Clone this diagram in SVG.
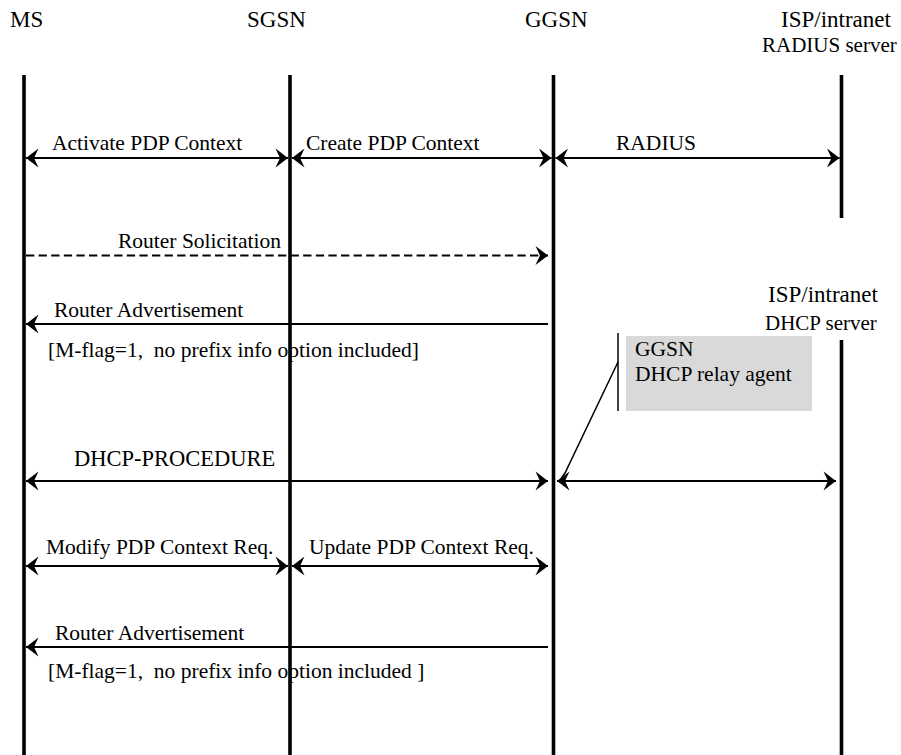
<svg xmlns="http://www.w3.org/2000/svg" width="901" height="755" viewBox="0 0 901 755">
<style>
text{fill:#000;white-space:pre}
.hd{font-size:23px}
.sub{font-size:21px}
.lb{font-size:21.5px}
.life{stroke:#000;stroke-width:3.6;fill:none}
.msg{stroke:#000;stroke-width:2;fill:none}
.dash{stroke-dasharray:8.3 4.3}
.thin{stroke:#000;stroke-width:1.5;fill:none}
</style>
<defs>
<marker id="ah" viewBox="-13 -10 14 20" refX="0" refY="0" markerWidth="14" markerHeight="20" markerUnits="userSpaceOnUse" orient="auto-start-reverse">
<path d="M0,0 L-12.5,-9.5 L-8,0 L-12.5,9.5 Z" fill="#000"/>
</marker>
</defs>
<rect width="901" height="755" fill="#fff"/>
<g font-family="'Liberation Serif', 'Times New Roman', 'DejaVu Serif', serif">
<g id="ms">
<text class="hd" x="10" y="27">MS</text>
<line class="life" x1="24" y1="75" x2="24" y2="755"/>
</g>
<g id="sgsn">
<text class="hd" x="247" y="27">SGSN</text>
<line class="life" x1="290" y1="75" x2="290" y2="755"/>
</g>
<g id="ggsn">
<text class="hd" x="525" y="27">GGSN</text>
<line class="life" x1="553.5" y1="75" x2="553.5" y2="755"/>
</g>
<g id="radius">
<text class="hd" x="781" y="27">ISP/intranet</text>
<text class="sub" x="762" y="52">RADIUS server</text>
<line class="life" x1="841.5" y1="75" x2="841.5" y2="218"/>
</g>
<g id="dhcp">
<text class="hd" x="768" y="302">ISP/intranet</text>
<text class="sub" x="765" y="330">DHCP server</text>
<line class="life" x1="841.5" y1="340" x2="841.5" y2="755"/>
</g>
<g id="relay">
<rect x="626" y="336" width="186" height="75" fill="#d9d9d9"/>
<line class="thin" x1="618" y1="333" x2="618" y2="411"/>
<text class="lb" x="635" y="356">GGSN</text>
<text class="lb" x="635" y="381">DHCP relay agent</text>
</g>
<g id="connectors">
<line class="msg" x1="26" y1="158" x2="288" y2="158" marker-start="url(#ah)" marker-end="url(#ah)"/>
<line class="msg" x1="292" y1="158" x2="551.5" y2="158" marker-start="url(#ah)" marker-end="url(#ah)"/>
<line class="msg" x1="555.5" y1="158" x2="839.5" y2="158" marker-start="url(#ah)" marker-end="url(#ah)"/>
<line class="msg dash" x1="26" y1="255.5" x2="548" y2="255.5" marker-end="url(#ah)"/>
<line class="msg" x1="548" y1="324" x2="26" y2="324" marker-end="url(#ah)"/>
<line class="msg" x1="26" y1="481" x2="548" y2="481" marker-start="url(#ah)" marker-end="url(#ah)"/>
<line class="msg" x1="557" y1="481" x2="836" y2="481" marker-start="url(#ah)" marker-end="url(#ah)"/>
<polyline class="thin" points="618,362 565,473 560,480"/>
<line class="msg" x1="26" y1="566" x2="288" y2="566" marker-start="url(#ah)" marker-end="url(#ah)"/>
<line class="msg" x1="292" y1="566" x2="548" y2="566" marker-start="url(#ah)" marker-end="url(#ah)"/>
<line class="msg" x1="548" y1="647" x2="26" y2="647" marker-end="url(#ah)"/>
</g>
<g id="labels">
<text class="lb" x="52" y="150">Activate PDP Context</text>
<text class="lb" x="306" y="150">Create PDP Context</text>
<text class="lb" x="616" y="150">RADIUS</text>
<text class="lb" x="118" y="248">Router Solicitation</text>
<text class="lb" x="54" y="317">Router Advertisement</text>
<text class="lb" x="48" y="357">[M-flag=1,  no prefix info option included]</text>
<text class="lb" x="74" y="466" style="font-size:22.5px">DHCP-PROCEDURE</text>
<text class="lb" x="46" y="554">Modify PDP Context Req.</text>
<text class="lb" x="309" y="554">Update PDP Context Req.</text>
<text class="lb" x="55" y="640">Router Advertisement</text>
<text class="lb" x="48" y="678">[M-flag=1,  no prefix info option included ]</text>
</g>
</g>
</svg>
